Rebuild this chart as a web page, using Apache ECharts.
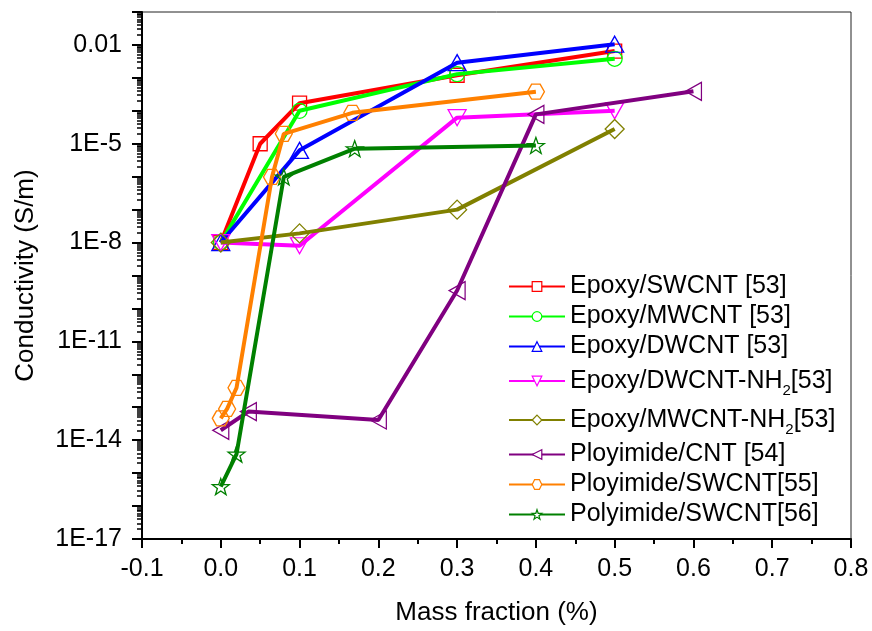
<!DOCTYPE html>
<html>
<head>
<meta charset="utf-8">
<script src="https://cdn.jsdelivr.net/npm/echarts@6/dist/echarts.min.js"></script>
<style>
html,body{margin:0;padding:0;background:#fff;}
#chart{width:872px;height:631px;}
</style>
</head>
<body>
<div id="chart"></div>
<script>
// ---- data ----
const seriesNames = [
  'Epoxy/SWCNT [53]',
  'Epoxy/MWCNT [53]',
  'Epoxy/DWCNT [53]',
  'Epoxy/DWCNT-NH2[53]',
  'Epoxy/MWCNT-NH2[53]',
  'Ployimide/CNT [54]',
  'Ployimide/SWCNT[55]',
  'Polyimide/SWCNT[56]'
];
const epoxySWCNT_x = [0, 0.05, 0.1, 0.3, 0.5];
const epoxySWCNT_y = [1e-8, 1e-5, 1.7e-4, 1.2e-3, 6.5e-3];
const epoxyMWCNT_x = [0, 0.1, 0.3, 0.5];
const epoxyMWCNT_y = [1e-8, 1.0e-4, 1.3e-3, 3.8e-3];
const epoxyDWCNT_x = [0, 0.1, 0.3, 0.5];
const epoxyDWCNT_y = [1e-8, 6.3e-6, 2.9e-3, 1.05e-2];
const epoxyDWCNTNH2_x = [0, 0.1, 0.3, 0.5];
const epoxyDWCNTNH2_y = [1e-8, 8e-9, 6.2e-5, 1.0e-4];
const epoxyMWCNTNH2_x = [0, 0.1, 0.3, 0.5];
const epoxyMWCNTNH2_y = [1e-8, 1.9e-8, 1.0e-7, 2.8e-5];
const piCNT_x = [0, 0.035, 0.2, 0.3, 0.4, 0.6];
const piCNT_y = [2e-14, 7.4e-14, 4.1e-14, 3.5e-10, 7.8e-5, 3.9e-4];
const piSWCNT55_x = [0, 0.008, 0.02, 0.065, 0.08, 0.167, 0.4];
const piSWCNT55_y = [4.6e-14, 8.9e-14, 3.9e-13, 9.8e-7, 2.0e-5, 8.7e-5, 3.8e-4];
const piSWCNT56_x = [0, 0.02, 0.08, 0.17, 0.4];
const piSWCNT56_y = [3.9e-16, 3.8e-15, 9.8e-7, 7.1e-6, 8.9e-6];

const yTickValues = [1e-17, 1e-14, 1e-11, 1e-8, 1e-5, 0.01];
const yTickLabels = ['1E-17', '1E-14', '1E-11', '1E-8', '1E-5', '0.01'];
const xTickLabels = ['-0.1', '0.0', '0.1', '0.2', '0.3', '0.4', '0.5', '0.6', '0.7', '0.8'];

// ---- styles ----
const FONT = '"Liberation Sans", Arial, sans-serif';
const colors = ['#FF0000', '#00FF00', '#0000FF', '#FF00FF', '#808000', '#800080', '#FF8000', '#008000'];
const HEX = 'path://M-1,0 L-0.5,-0.866 L0.5,-0.866 L1,0 L0.5,0.866 L-0.5,0.866 Z';
const STAR = 'path://M0,-1 L0.235,-0.324 L0.951,-0.309 L0.380,0.124 L0.588,0.809 L0,0.4 L-0.588,0.809 L-0.380,0.124 L-0.951,-0.309 L-0.235,-0.324 Z';
const symbols = [
  {symbol: 'rect', size: 14, rotate: 0},
  {symbol: 'circle', size: 15, rotate: 0},
  {symbol: 'triangle', size: [18, 16], rotate: 0},
  {symbol: 'triangle', size: [18, 16], rotate: 180},
  {symbol: 'diamond', size: 19, rotate: 0},
  {symbol: 'triangle', size: [18, 16], rotate: 90},
  {symbol: HEX, size: [17, 15], rotate: 0},
  {symbol: STAR, size: [17, 16], rotate: 0}
];
const xs = [epoxySWCNT_x, epoxyMWCNT_x, epoxyDWCNT_x, epoxyDWCNTNH2_x, epoxyMWCNTNH2_x, piCNT_x, piSWCNT55_x, piSWCNT56_x];
const ys = [epoxySWCNT_y, epoxyMWCNT_y, epoxyDWCNT_y, epoxyDWCNTNH2_y, epoxyMWCNTNH2_y, piCNT_y, piSWCNT55_y, piSWCNT56_y];

const series = seriesNames.map((name, i) => ({
  name: name,
  type: 'line',
  data: xs[i].map((x, j) => [x, ys[i][j]]),
  symbol: symbols[i].symbol,
  symbolSize: symbols[i].size,
  symbolRotate: symbols[i].rotate,
  showAllSymbol: true,
  lineStyle: {color: colors[i], width: 4},
  itemStyle: {color: 'rgba(255,255,255,0)', borderColor: colors[i], borderWidth: 1.3},
  emphasis: {disabled: true},
  z: 2 + i
}));

const legendData = seriesNames.map((name, i) => ({
  name: name,
  itemStyle: {color: '#ffffff', borderColor: colors[i], borderWidth: 1.2}
}));

const chart = echarts.init(document.getElementById('chart'), null, {renderer: 'canvas'});
chart.setOption({
  animation: false,
  backgroundColor: '#fff',
  grid: {left: 142, right: 21, top: 12, bottom: 91, show: true, borderColor: '#222', borderWidth: 1},
  legend: {
    orient: 'vertical',
    left: 508,
    top: 274,
    itemWidth: 56,
    itemHeight: 12,
    itemGap: 5,
    padding: 0,
    selectedMode: false,
    textStyle: {
      fontFamily: FONT, fontSize: 25, color: '#000', lineHeight: 25,
      rich: {
        sub: {fontFamily: FONT, fontSize: 15, lineHeight: 15, color: '#000', padding: [19, 0, 0, 0]}
      }
    },
    formatter: function (n) { return n.replace('NH2', 'NH{sub|2}'); },
    data: legendData
  },
  xAxis: {
    type: 'value',
    min: -0.1,
    max: 0.8,
    interval: 0.1,
    name: 'Mass fraction (%)',
    nameLocation: 'middle',
    nameGap: 61,
    nameTextStyle: {fontFamily: FONT, fontSize: 26, color: '#000'},
    axisLine: {show: true, onZero: false, lineStyle: {color: '#000', width: 2}},
    axisTick: {show: true, inside: false, length: 9, lineStyle: {color: '#000', width: 2}},
    minorTick: {show: true, splitNumber: 2, length: 5, lineStyle: {color: '#000', width: 2}},
    splitLine: {show: false},
    axisLabel: {
      fontFamily: FONT, fontSize: 25, color: '#000', margin: 18,
      formatter: function (v) { return xTickLabels[Math.round((v + 0.1) * 10)]; }
    }
  },
  yAxis: {
    type: 'log',
    logBase: 10,
    min: 1e-17,
    max: 0.1,
    interval: 1,
    name: 'Conductivity (S/m)',
    nameLocation: 'middle',
    nameGap: 103,
    nameRotate: 90,
    nameTextStyle: {fontFamily: FONT, fontSize: 26, color: '#000'},
    axisLine: {show: true, onZero: false, lineStyle: {color: '#000', width: 2}},
    axisTick: {show: true, inside: false, length: 10, lineStyle: {color: '#000', width: 2}},
    minorTick: {show: true, splitNumber: 9, length: 5, lineStyle: {color: '#000', width: 1.5}},
    splitLine: {show: false},
    axisLabel: {
      fontFamily: FONT, fontSize: 25, color: '#000', margin: 20,
      formatter: function (v) {
        const e = Math.round(Math.log10(v));
        for (let k = 0; k < yTickValues.length; k++) {
          if (Math.round(Math.log10(yTickValues[k])) === e) return yTickLabels[k];
        }
        return '';
      }
    }
  },
  series: series
});
</script>
</body>
</html>
